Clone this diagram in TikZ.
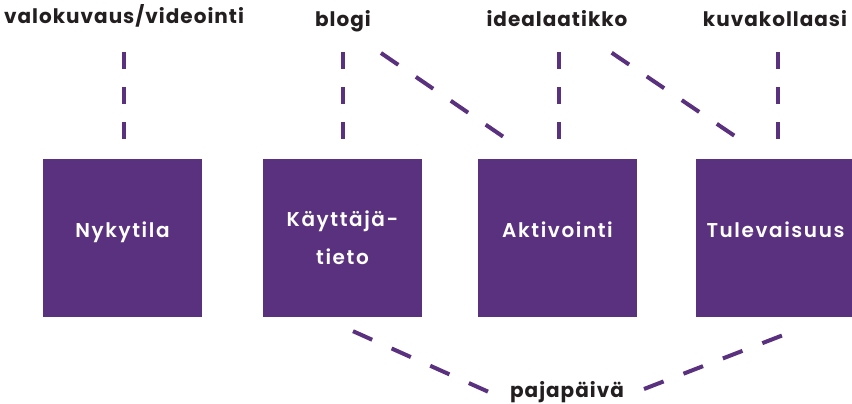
\documentclass[tikz,border=0pt]{standalone}
\usepackage{fontspec}
\setmainfont{Poppins}[BoldFont={* SemiBold}, LetterSpace=8]
\newfontfamily\tagfont{Poppins}[UprightFont={* Bold}, LetterSpace=5]
\usepackage{tikz}
\definecolor{pajaviolet}{HTML}{5A317E}
\definecolor{ink}{HTML}{231F20}

\begin{document}
\begin{tikzpicture}[x=1pt, y=-1pt,
				box/.style={fill=pajaviolet, minimum width=159pt, minimum height=158pt, inner sep=0pt, text=white, align=center, font=\fontsize{20}{38}\selectfont\bfseries},
				oneline/.style={text height=17pt, text depth=19pt},
				tag/.style={anchor=base, inner sep=0pt, text=ink, font=\fontsize{20}{24}\selectfont\tagfont},
				vlink/.style={pajaviolet, line width=4pt, dash pattern=on 17pt off 18pt, shorten <=25pt, shorten >=20pt},
				dlink/.style={pajaviolet, line width=4pt, dash pattern=on 21pt off 21.3pt}]
				\useasboundingbox (0,0) rectangle (852,404);
				\node at (122.5,238) (ny) [box, oneline] {Nykytila};
				\node at (342.5,238) (kt) [box] {Käyttäjä-\\tieto};
				\node at (557.5,238) (akt) [box, oneline] {Aktivointi};
				\node at (775.5,238) (tu) [box, oneline] {Tulevaisuus};
				\node at (124,24) (vid) [tag] {valokuvaus/videointi};
				\node at (343,27) (bl) [tag] {blogi};
				\node at (557,27) (id) [tag] {idealaatikko};
				\node at (775,27) (kk) [tag] {kuvakollaasi};
				\node at (567,397) (pp) [tag] {pajapäivä};
				\draw [vlink, shorten <=28pt] (vid.base) -- (vid.base |- ny.north);
				\draw [vlink] (bl.base) -- (bl.base |- kt.north);
				\draw [vlink] ([xshift=2pt]id.base) -- ([xshift=2pt]id.base |- akt.north);
				\draw [vlink] ([xshift=3pt]kk.base) -- ([xshift=3pt]kk.base |- tu.north);
				\draw [dlink, shorten <=46pt, shorten >=39pt] (bl.base) -- ([xshift=-22pt]akt.north);
				\draw [dlink, shorten <=46pt, shorten >=39pt] ([xshift=16.6pt]id.base) -- ([xshift=-7pt]tu.north);
				\draw [dlink, shorten <=34.2pt, shorten >=12.1pt] ([xshift=-20.7pt]kt.south) -- ([xshift=-67pt]pp.base);
				\draw [dlink, shorten <=22.1pt, shorten >=49.7pt] ([xshift=56.4pt]pp.base) -- ([xshift=53.8pt]tu.south);
			\end{tikzpicture}
\end{document}
